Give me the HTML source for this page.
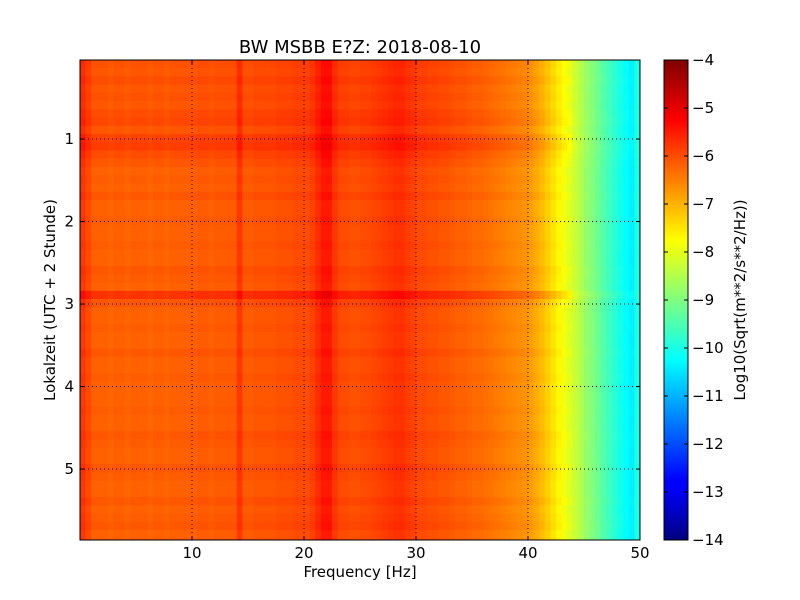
<!DOCTYPE html>
<html><head><meta charset="utf-8"><style>
html,body{margin:0;padding:0;background:#fff;}
svg{display:block;font-family:"DejaVu Sans","Liberation Sans",sans-serif;}
</style></head><body>
<svg id="chart" width="800" height="600" viewBox="0 0 800 600">
<defs><clipPath id="pc"><rect x="80" y="60" width="560" height="480"/></clipPath>
<linearGradient id="cbg" x1="0" y1="1" x2="0" y2="0">
<stop offset="0" stop-color="#00007f"/><stop offset="0.11" stop-color="#0000ff"/><stop offset="0.125" stop-color="#0000ff"/>
<stop offset="0.375" stop-color="#00ffff"/><stop offset="0.5" stop-color="#7fff7f"/><stop offset="0.625" stop-color="#ffff00"/>
<stop offset="0.875" stop-color="#ff0000"/><stop offset="1" stop-color="#7f0000"/></linearGradient></defs>
<g id="heat" clip-path="url(#pc)"></g>
<g id="grid"></g>
<rect x="80" y="60" width="560" height="480" fill="none" stroke="#000" stroke-width="1"/>
<g id="axes" font-size="15" fill="#000"></g>
<text x="360" y="53" font-size="18" text-anchor="middle">BW MSBB E?Z: 2018-08-10</text>
<text x="360" y="577" font-size="15" text-anchor="middle">Frequency [Hz]</text>
<text transform="translate(55,300) rotate(-90)" font-size="15" text-anchor="middle">Lokalzeit (UTC + 2 Stunde)</text>
<rect x="664" y="60" width="24" height="480" fill="url(#cbg)" stroke="#000"/>
<g id="cbt" font-size="15"></g>
<text transform="translate(745,300) rotate(-90)" font-size="15" text-anchor="middle">Log10(Sqrt(m**2/s**2/Hz))</text>
</svg>
<script>
const baseSpectrum = [-5.8,-6.0,
-6.2,-6.2,-6.2,-6.25,-6.2,-6.2,-6.25,-6.2,-6.2,-6.2,-6.25,-6.2,-6.2,-6.25,-6.2,-6.2,-6.2,-6.2,
-6.2,-6.15,-6.15,-6.2,-6.15,-6.15,-6.15,-6.15,
-5.8,
-6.15,-6.15,-6.1,-6.1,-6.1,-6.1,-6.05,-6.05,-6.05,-6.0,-6.0,-6.0,-5.9,
-5.7,-5.5,-5.5,-5.8,
-6.0,-6.0,-6.05,-6.05,
-6.0,-6.0,-5.95,-5.9,-5.85,-5.8,-5.75,-5.75,-5.85,-5.9,-6.0,-6.0,-6.05,-6.05,
-6.1,-6.1,-6.15,-6.2,-6.2,-6.25,-6.3,-6.3,-6.35,-6.4,
-6.45,-6.5,-6.55,-6.6,-6.65,-6.7,-6.8,-6.95,-7.1,-7.3,-7.5,-7.7,-7.9,-8.1,-8.3,-8.55,-8.8,-9.0,-9.2,-9.45,-9.65,-9.85,-10.05,-10.25,-10.4,-10.0];
const rowOffsets = [0.15,0.1,0.2,0.1,0.15,0.1,0.2,0.25,0.1,0.3,0.35,0.2,0.1,
0,0.05,0,0.1,0,0,0.05,0,0,0.05,0,0,0.1,0.05,0,
0.45,0.1,
0,0,0.05,0,0,0.1,0,0,0.05,0,0,0,0.05,0,0,0.1,0.05,0,0,0.1,0.05,0,0,0.1,0,0.05,0.1,0,0.05];
const xTicks = [10,20,30,40,50];
const yTicks = [1,2,3,4,5];
const cbTicks = [-4,-5,-6,-7,-8,-9,-10,-11,-12,-13,-14];
const fBin = 0.5, tBin = 0.1, tStart = 0.04;
const xMin=0,xMax=50,yMin=0.042,yMax=5.86,vMin=-14,vMax=-4;
const X=f=>80+(f-xMin)/(xMax-xMin)*560;
const Y=t=>60+(t-yMin)/(yMax-yMin)*480;
const CB=v=>60+(vMax-v)/(vMax-vMin)*480;
function jet(v){let n=(v-vMin)/(vMax-vMin);n=Math.max(0,Math.min(1,n));
const c=x=>Math.round(255*Math.max(0,Math.min(1,x)));
return `rgb(${c(1.5-Math.abs(4*n-3))},${c(1.5-Math.abs(4*n-2))},${c(1.5-Math.abs(4*n-1))})`;}
const NS='http://www.w3.org/2000/svg';
const heat=document.getElementById('heat');
rowOffsets.forEach((off,i)=>{const t0=tStart+i*tBin;
 baseSpectrum.forEach((b,j)=>{const f0=j*fBin;
  const v=b+off*(f0<44?1:0.3);
  const r=document.createElementNS(NS,'rect');
  
  
  r.setAttribute('x',X(f0));r.setAttribute('y',Y(t0));
  r.setAttribute('width',X(f0+fBin)-X(f0)+0.5);r.setAttribute('height',Y(t0+tBin)-Y(t0)+0.5);
  r.setAttribute('fill',jet(v));heat.appendChild(r);});});
const grid=document.getElementById('grid'),axes=document.getElementById('axes');
function mk(tag,attrs,parent,txt){const e=document.createElementNS(NS,tag);for(const k in attrs)e.setAttribute(k,attrs[k]);if(txt!==undefined)e.textContent=txt;parent.appendChild(e);return e;}
xTicks.forEach(v=>{const x=X(v);
 const g=mk('line',{x1:x,x2:x,y1:60,y2:540,stroke:'#000','stroke-dasharray':'1,3'},grid);
 
 
 const t=mk('text',{x:x,y:558,'text-anchor':'middle'},axes,String(v));
 
 
 mk('line',{x1:x,x2:x,y1:540,y2:536,stroke:'#000'},axes);mk('line',{x1:x,x2:x,y1:60,y2:64,stroke:'#000'},axes);});
yTicks.forEach(v=>{const y=Y(v);
 const g=mk('line',{x1:80,x2:640,y1:y,y2:y,stroke:'#000','stroke-dasharray':'1,3'},grid);
 
 
 const t=mk('text',{x:74,y:y+5,'text-anchor':'end'},axes,String(v));
 
 
 mk('line',{x1:80,x2:84,y1:y,y2:y,stroke:'#000'},axes);mk('line',{x1:640,x2:636,y1:y,y2:y,stroke:'#000'},axes);});
const cbt=document.getElementById('cbt');
cbTicks.forEach(v=>{const y=CB(v);
 mk('line',{x1:684,x2:688,y1:y,y2:y,stroke:'#000'},cbt);mk('line',{x1:664,x2:668,y1:y,y2:y,stroke:'#000'},cbt);
 const t=mk('text',{x:692,y:y+5},cbt,'\u2212'+Math.abs(v));
 
 });
</script>
</body></html>
